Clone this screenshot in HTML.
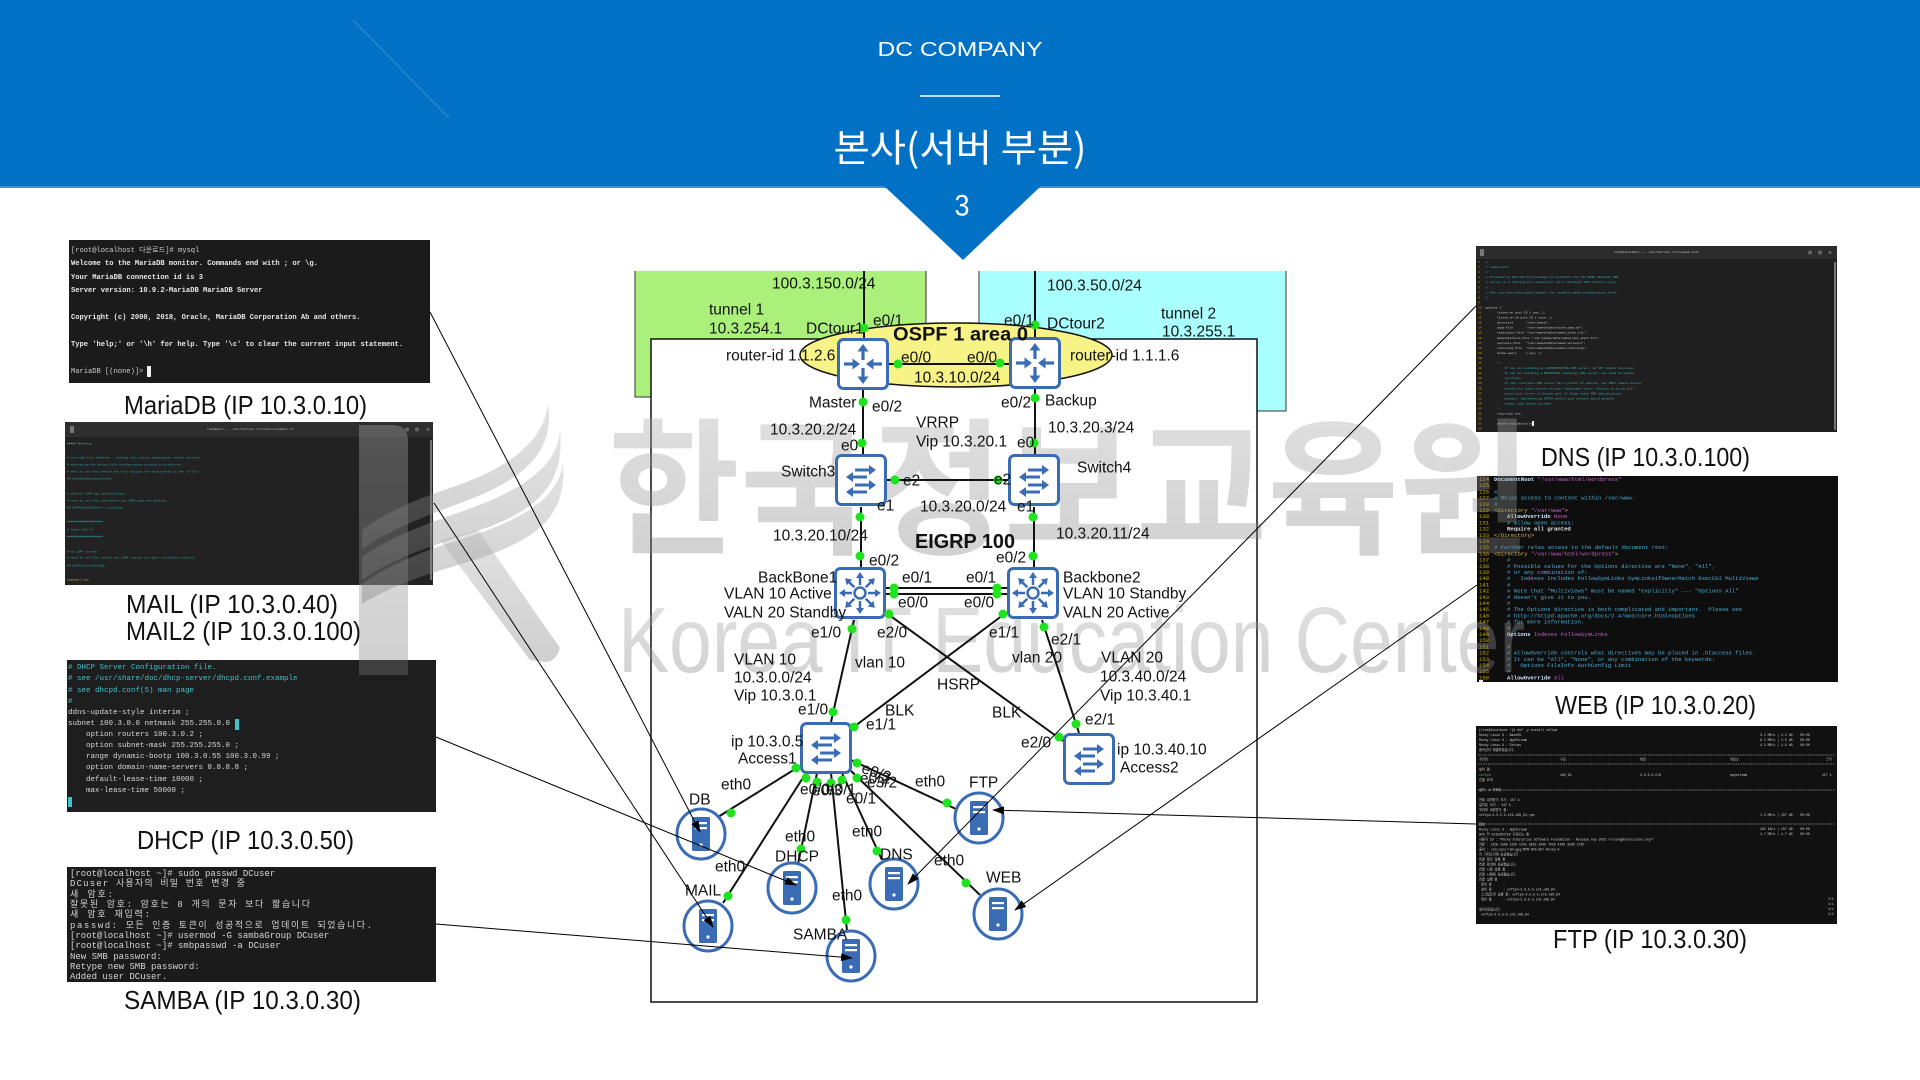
<!DOCTYPE html>
<html><head><meta charset="utf-8">
<style>
html,body{margin:0;padding:0;background:#fff;width:1920px;height:1080px;overflow:hidden;}
svg{display:block;}
text{dominant-baseline:central;}
.l{font-size:15.5px;fill:#111;}
.m{font-family:'Liberation Mono','Noto Sans CJK KR',monospace;white-space:pre;}
.cap{font-size:26px;fill:#111;}
</style></head>
<body>
<svg xmlns="http://www.w3.org/2000/svg" width="1920" height="1080" viewBox="0 0 1920 1080" font-family="'Liberation Sans','Noto Sans CJK KR',sans-serif">
<defs>
<marker id="ah" markerWidth="12" markerHeight="8" refX="11" refY="4" orient="auto" markerUnits="userSpaceOnUse"><path d="M0,0 L12,4 L0,8 Z" fill="#000"/></marker>
<linearGradient id="wm" x1="0" y1="0" x2="0" y2="1"><stop offset="0" stop-color="#b0b0b0"/><stop offset="1" stop-color="#7a7a7a"/></linearGradient>
<g id="rtr">
 <rect x="1.5" y="1.5" width="49" height="49" rx="5" fill="#fff" stroke="#3a6cb5" stroke-width="3"/>
 <g stroke="#3a6cb5" stroke-width="3.2" fill="none">
  <line x1="26" y1="22" x2="26" y2="12"/><line x1="26" y1="30" x2="26" y2="40"/>
  <line x1="7" y1="26" x2="17" y2="26"/><line x1="45" y1="26" x2="35" y2="26"/>
 </g>
 <g fill="#3a6cb5">
  <polygon points="26,6 20.5,13.5 31.5,13.5"/><polygon points="26,46 20.5,38.5 31.5,38.5"/>
  <polygon points="23,26 15.5,20.5 15.5,31.5"/><polygon points="29,26 36.5,20.5 36.5,31.5"/>
 </g>
</g>
<g id="sw">
 <rect x="1.5" y="1.5" width="49" height="49" rx="5" fill="#fff" stroke="#3a6cb5" stroke-width="3"/>
 <g stroke="#3a6cb5" stroke-width="3" fill="none">
  <line x1="20" y1="16" x2="35" y2="16"/><line x1="32" y1="23" x2="17" y2="23"/>
  <line x1="20" y1="31" x2="35" y2="31"/><line x1="32" y1="38" x2="17" y2="38"/>
 </g>
 <g fill="#3a6cb5">
  <polygon points="41,16 34,11 34,21"/><polygon points="11,23 18,18 18,28"/>
  <polygon points="41,31 34,26 34,36"/><polygon points="11,38 18,33 18,43"/>
 </g>
</g>
<g id="bb">
 <rect x="1.5" y="1.5" width="49" height="49" rx="5" fill="#fff" stroke="#3a6cb5" stroke-width="3"/>
 <circle cx="26" cy="26" r="5.5" fill="none" stroke="#3a6cb5" stroke-width="2.5"/>
 <g stroke="#3a6cb5" stroke-width="2.5">
  <line x1="34" y1="26" x2="42" y2="26"/><line x1="26" y1="34" x2="26" y2="42"/>
  <line x1="18" y1="26" x2="10" y2="26"/><line x1="26" y1="18" x2="26" y2="10"/>
  <line x1="31.7" y1="31.7" x2="37.3" y2="37.3"/><line x1="20.3" y1="31.7" x2="14.7" y2="37.3"/>
  <line x1="20.3" y1="20.3" x2="14.7" y2="14.7"/><line x1="31.7" y1="20.3" x2="37.3" y2="14.7"/>
 </g>
 <g fill="#3a6cb5">
  <polygon points="47,26 41,22 41,30"/><polygon points="26,47 22,41 30,41"/>
  <polygon points="5,26 11,22 11,30"/><polygon points="26,5 22,11 30,11"/>
  <polygon points="40.9,40.9 33.8,39.4 39.4,33.8"/><polygon points="11.1,40.9 18.2,39.4 12.6,33.8"/>
  <polygon points="11.1,11.1 12.6,18.2 18.2,12.6"/><polygon points="40.9,11.1 39.4,18.2 33.8,12.6"/>
 </g>
</g>
<g id="srv">
 <ellipse rx="24" ry="25" fill="#fff" stroke="#3a6cb5" stroke-width="3"/>
 <rect x="-9" y="-17" width="18" height="34" rx="1.5" fill="#3a6cb5"/>
 <rect x="-6" y="-12" width="12" height="2.2" fill="#fff"/>
 <rect x="-6" y="-7" width="12" height="2.2" fill="#fff"/>
 <circle cx="0" cy="11" r="1.6" fill="#fff"/>
</g>
</defs>

<!-- HEADER -->
<rect x="0" y="0" width="1920" height="187" fill="#0071c5"/>
<rect x="0" y="186" width="1920" height="2" fill="#3d8fd5"/>
<line x1="353" y1="20" x2="449" y2="118" stroke="#ffffff" stroke-opacity="0.22" stroke-width="1"/>
<text x="960" y="50" text-anchor="middle" font-size="20" fill="#fff" textLength="165" lengthAdjust="spacingAndGlyphs">DC COMPANY</text>
<line x1="920" y1="96" x2="1000" y2="96" stroke="#fff" stroke-width="1.5"/>
<text x="960" y="145" text-anchor="middle" font-size="38" fill="#fff" font-family="'Noto Sans CJK KR',sans-serif" textLength="253" lengthAdjust="spacingAndGlyphs">본사(서버 부분)</text>
<polygon points="884,186 1041,186 963,260" fill="#0071c5"/>
<text x="962" y="206" text-anchor="middle" font-size="30" fill="#fff" textLength="15" lengthAdjust="spacingAndGlyphs">3</text>

<!-- LEFT PANELS -->
<rect x="69" y="240" width="361" height="143" fill="#1b1b1b"/>
<g class="m" font-size="7.1" fill="#e9e9e9" font-weight="bold">
 <text x="71" y="251" font-weight="normal" fill="#cfcfcf">[root@localhost 다운로드]# mysql</text>
 <text x="71" y="264">Welcome to the MariaDB monitor.  Commands end with ; or \g.</text>
 <text x="71" y="278">Your MariaDB connection id is 3</text>
 <text x="71" y="291">Server version: 10.9.2-MariaDB MariaDB Server</text>
 <text x="71" y="318">Copyright (c) 2000, 2018, Oracle, MariaDB Corporation Ab and others.</text>
 <text x="71" y="345">Type 'help;' or '\h' for help. Type '\c' to clear the current input statement.</text>
 <text x="71" y="372" font-weight="normal" fill="#cfcfcf">MariaDB [(none)]&gt; </text>
</g>
<rect x="147" y="366" width="4" height="11" fill="#f0f0f0"/>

<rect x="65" y="422" width="368" height="163" fill="#222"/>
<rect x="65" y="422" width="368" height="15" fill="#2e2e2e"/>
<text x="250" y="429.5" text-anchor="middle" class="m" font-size="3" fill="#bbb">root@mail:~ — /usr/bin/vim /etc/mail/sendmail.cf</text>
<rect x="70" y="426" width="4" height="7" fill="#777"/>
<circle cx="407" cy="429.5" r="2" fill="#666"/><circle cx="417" cy="429.5" r="2" fill="#666"/><circle cx="428" cy="429.5" r="1.5" fill="#666"/>
<rect x="430" y="440" width="2" height="140" fill="#777"/>
<g class="m" font-size="3" fill="#2fa4aa">
 <text x="67" y="444" fill="#8aa">##### Berkeley</text>
 <text x="67" y="458">#  override file safeties - setting this option compromises system security,</text>
 <text x="67" y="465">#  addressing the actual file configuration problem is preferred</text>
 <text x="67" y="472">#  need to set this before any file actions are encountered in the cf file</text>
 <text x="67" y="479">#O DontBlameSendmail=safe</text>
 <text x="67" y="494">#  default LDAP map specification</text>
 <text x="67" y="501">#  need to set this now before any LDAP maps are defined</text>
 <text x="67" y="508">#O LDAPDefaultSpec=-h localhost</text>
 <text x="67" y="522">####################</text>
 <text x="67" y="530">#   Local Info   #</text>
 <text x="67" y="537">####################</text>
 <text x="67" y="552">#  my LDAP cluster</text>
 <text x="67" y="558">#  need to set this before any LDAP lookups are done (including classes)</text>
 <text x="67" y="566">#O LDAPClusterID=ldap</text>
 <text x="67" y="580" fill="#d4b04a">Cwdomail.com</text>
</g>

<rect x="67" y="660" width="369" height="152" fill="#1e1e1e"/>
<g class="m" font-size="7.5" fill="#d8d8d8">
 <text x="68" y="668" fill="#3fc3cc"># DHCP Server Configuration file.</text>
 <text x="68" y="679" fill="#3fc3cc">#   see /usr/share/doc/dhcp-server/dhcpd.conf.example</text>
 <text x="68" y="691" fill="#3fc3cc">#   see dhcpd.conf(5) man page</text>
 <text x="68" y="702" fill="#3fc3cc">#</text>
 <text x="68" y="713">ddns-update-style interim ;</text>
 <text x="68" y="724">subnet 100.3.0.0 netmask 255.255.0.0 </text>
 <text x="86" y="735">option routers 100.3.0.2 ;</text>
 <text x="86" y="746">option subnet-mask 255.255.255.0 ;</text>
 <text x="86" y="757">range dynamic-bootp 100.3.0.55 100.3.0.99 ;</text>
 <text x="86" y="768">option domain-name-servers 8.8.8.8 ;</text>
 <text x="86" y="780">default-lease-time 10000 ;</text>
 <text x="86" y="791">max-lease-time 50000 ;</text>
</g>
<rect x="235" y="719" width="4" height="11" fill="#3fc3cc"/>
<rect x="68" y="797" width="4" height="10" fill="#3fc3cc"/>

<rect x="67" y="867" width="369" height="115" fill="#1b1b1b"/>
<g class="m" font-size="9" fill="#d4d4d4">
 <text x="70" y="874">[root@localhost ~]# sudo passwd DCuser</text>
 <text x="70" y="884" textLength="175" lengthAdjust="spacing">DCuser 사용자의 비밀 번호 변경 중</text>
 <text x="70" y="895" textLength="43" lengthAdjust="spacing">새 암호:</text>
 <text x="70" y="905" textLength="240" lengthAdjust="spacing">잘못된 암호: 암호는 8 개의 문자 보다 짧습니다</text>
 <text x="70" y="915" textLength="80" lengthAdjust="spacing">새 암호 재입력:</text>
 <text x="70" y="926" textLength="302" lengthAdjust="spacing">passwd: 모든 인증 토큰이 성공적으로 업데이트 되었습니다.</text>
 <text x="70" y="936">[root@localhost ~]# usermod -G sambaGroup DCuser</text>
 <text x="70" y="946">[root@localhost ~]# smbpasswd -a DCuser</text>
 <text x="70" y="957">New SMB password:</text>
 <text x="70" y="967">Retype new SMB password:</text>
 <text x="70" y="977">Added user DCuser.</text>
</g>

<!-- RIGHT PANELS -->
<rect x="1476" y="246" width="361" height="186" fill="#1f1f1f"/>
<rect x="1476" y="246" width="361" height="13" fill="#2c2c2c"/>
<text x="1656" y="252.5" text-anchor="middle" class="m" font-size="3" fill="#ccc">root@localhost:~ — /usr/bin/vim /etc/named.conf</text>
<rect x="1480" y="249" width="4" height="7" fill="#777"/>
<circle cx="1810" cy="252.5" r="2" fill="#666"/><circle cx="1820" cy="252.5" r="2" fill="#666"/><circle cx="1830" cy="252.5" r="1.5" fill="#666"/>
<rect x="1834" y="262" width="2" height="168" fill="#777"/>
<text class="m" font-size="3" fill="#c9b200"><tspan x="1478" y="262">1</tspan><tspan x="1478" dy="5.05">2</tspan><tspan x="1478" dy="5.05">3</tspan><tspan x="1478" dy="5.05">4</tspan><tspan x="1478" dy="5.05">5</tspan><tspan x="1478" dy="5.05">6</tspan><tspan x="1478" dy="5.05">7</tspan><tspan x="1478" dy="5.05">8</tspan><tspan x="1478" dy="5.05">9</tspan><tspan x="1478" dy="5.05">10</tspan><tspan x="1478" dy="5.05">11</tspan><tspan x="1478" dy="5.05">12</tspan><tspan x="1478" dy="5.05">13</tspan><tspan x="1478" dy="5.05">14</tspan><tspan x="1478" dy="5.05">15</tspan><tspan x="1478" dy="5.05">16</tspan><tspan x="1478" dy="5.05">17</tspan><tspan x="1478" dy="5.05">18</tspan><tspan x="1478" dy="5.05">19</tspan><tspan x="1478" dy="5.05">20</tspan><tspan x="1478" dy="5.05">21</tspan><tspan x="1478" dy="5.05">22</tspan><tspan x="1478" dy="5.05">23</tspan><tspan x="1478" dy="5.05">24</tspan><tspan x="1478" dy="5.05">25</tspan><tspan x="1478" dy="5.05">26</tspan><tspan x="1478" dy="5.05">27</tspan><tspan x="1478" dy="5.05">28</tspan><tspan x="1478" dy="5.05">29</tspan><tspan x="1478" dy="5.05">30</tspan><tspan x="1478" dy="5.05">31</tspan><tspan x="1478" dy="5.05">32</tspan><tspan x="1478" dy="5.05">33</tspan><tspan x="1478" dy="5.05">34</tspan></text>
<text class="m" font-size="3" fill="#3fb0b8"><tspan x="1485" y="262">//</tspan><tspan x="1485" dy="5.05">// named.conf</tspan><tspan x="1485" dy="5.05">//</tspan><tspan x="1485" dy="5.05">// Provided by Red Hat bind package to configure the ISC BIND named(8) DNS</tspan><tspan x="1485" dy="5.05">// server as a caching only nameserver (as a localhost DNS resolver only).</tspan><tspan x="1485" dy="5.05">//</tspan><tspan x="1485" dy="5.05">// See /usr/share/doc/bind*/sample/ for example named configuration files.</tspan><tspan x="1485" dy="5.05">//</tspan><tspan x="1485" dy="5.05">&#160;</tspan><tspan x="1485" dy="5.05" fill="#d0d0d0">options {</tspan><tspan x="1497" dy="5.05" fill="#d0d0d0">listen-on port 53 { any; };</tspan><tspan x="1497" dy="5.05" fill="#d0d0d0">listen-on-v6 port 53 { none; };</tspan><tspan x="1497" dy="5.05" fill="#d0d0d0">directory       "/var/named";</tspan><tspan x="1497" dy="5.05" fill="#d0d0d0">dump-file       "/var/named/data/cache_dump.db";</tspan><tspan x="1497" dy="5.05" fill="#d0d0d0">statistics-file "/var/named/data/named_stats.txt";</tspan><tspan x="1497" dy="5.05" fill="#d0d0d0">memstatistics-file "/var/named/data/named_mem_stats.txt";</tspan><tspan x="1497" dy="5.05" fill="#d0d0d0">secroots-file   "/var/named/data/named.secroots";</tspan><tspan x="1497" dy="5.05" fill="#d0d0d0">recursing-file  "/var/named/data/named.recursing";</tspan><tspan x="1497" dy="5.05" fill="#d0d0d0">allow-query     { any; };</tspan><tspan x="1497" dy="5.05">&#160;</tspan><tspan x="1497" dy="5.05">/*</tspan><tspan x="1499" dy="5.05"> - If you are building an AUTHORITATIVE DNS server, do NOT enable recursion.</tspan><tspan x="1499" dy="5.05"> - If you are building a RECURSIVE (caching) DNS server, you need to enable</tspan><tspan x="1499" dy="5.05">   recursion.</tspan><tspan x="1499" dy="5.05"> - If your recursive DNS server has a public IP address, you MUST enable access</tspan><tspan x="1499" dy="5.05">   control to limit queries to your legitimate users. Failing to do so will</tspan><tspan x="1499" dy="5.05">   cause your server to become part of large scale DNS amplification</tspan><tspan x="1499" dy="5.05">   attacks. Implementing BCP38 within your network would greatly</tspan><tspan x="1499" dy="5.05">   reduce such attack surface</tspan><tspan x="1497" dy="5.05">*/</tspan><tspan x="1497" dy="5.05" fill="#d0d0d0">recursion yes;</tspan><tspan x="1497" dy="5.05">&#160;</tspan><tspan x="1497" dy="5.05" fill="#d0d0d0">dnssec-validation no;</tspan><tspan x="1485" dy="5.05">&#160;</tspan></text>
<rect x="1532" y="421" width="2" height="5" fill="#eee"/>

<rect x="1477" y="476" width="361" height="206" fill="#0e0e0e"/>
<text class="m" font-size="5.6" fill="#c8a800"><tspan x="1479" y="479">124</tspan><tspan x="1479" dy="6.2">125</tspan><tspan x="1479" dy="6.2">126</tspan><tspan x="1479" dy="6.2">127</tspan><tspan x="1479" dy="6.2">128</tspan><tspan x="1479" dy="6.2">129</tspan><tspan x="1479" dy="6.2">130</tspan><tspan x="1479" dy="6.2">131</tspan><tspan x="1479" dy="6.2">132</tspan><tspan x="1479" dy="6.2">133</tspan><tspan x="1479" dy="6.2">134</tspan><tspan x="1479" dy="6.2">135</tspan><tspan x="1479" dy="6.2">136</tspan><tspan x="1479" dy="6.2">137</tspan><tspan x="1479" dy="6.2">138</tspan><tspan x="1479" dy="6.2">139</tspan><tspan x="1479" dy="6.2">140</tspan><tspan x="1479" dy="6.2">141</tspan><tspan x="1479" dy="6.2">142</tspan><tspan x="1479" dy="6.2">143</tspan><tspan x="1479" dy="6.2">144</tspan><tspan x="1479" dy="6.2">145</tspan><tspan x="1479" dy="6.2">146</tspan><tspan x="1479" dy="6.2">147</tspan><tspan x="1479" dy="6.2">148</tspan><tspan x="1479" dy="6.2">149</tspan><tspan x="1479" dy="6.2">150</tspan><tspan x="1479" dy="6.2">151</tspan><tspan x="1479" dy="6.2">152</tspan><tspan x="1479" dy="6.2">153</tspan><tspan x="1479" dy="6.2">154</tspan><tspan x="1479" dy="6.2">155</tspan><tspan x="1479" dy="6.2">156</tspan></text>
<text class="m" font-size="5.6" fill="#4ab0d8"><tspan x="1494" y="479" fill="#d0e8ff" font-weight="bold">DocumentRoot <tspan fill="#c060c0" font-weight="normal">"/var/www/html/wordpress"</tspan></tspan><tspan x="1494" dy="6.2">&#160;</tspan><tspan x="1494" dy="6.2">#</tspan><tspan x="1494" dy="6.2"># Relax access to content within /var/www.</tspan><tspan x="1494" dy="6.2">#</tspan><tspan x="1494" dy="6.2" fill="#d8b84a">&lt;Directory <tspan fill="#c060c0">"/var/www"</tspan>&gt;</tspan><tspan x="1507" dy="6.2" fill="#d0e8ff" font-weight="bold">AllowOverride <tspan fill="#c060c0" font-weight="normal">None</tspan></tspan><tspan x="1507" dy="6.2"># Allow open access:</tspan><tspan x="1507" dy="6.2" fill="#e8e8e8" font-weight="bold">Require all granted</tspan><tspan x="1494" dy="6.2" fill="#d8b84a">&lt;/Directory&gt;</tspan><tspan x="1494" dy="6.2">&#160;</tspan><tspan x="1494" dy="6.2"># Further relax access to the default document root:</tspan><tspan x="1494" dy="6.2" fill="#d8b84a">&lt;Directory <tspan fill="#c060c0">"/var/www/html/wordpress"</tspan>&gt;</tspan><tspan x="1507" dy="6.2">#</tspan><tspan x="1507" dy="6.2"># Possible values for the Options directive are "None", "All",</tspan><tspan x="1507" dy="6.2"># or any combination of:</tspan><tspan x="1507" dy="6.2">#   Indexes Includes FollowSymLinks SymLinksifOwnerMatch ExecCGI MultiViews</tspan><tspan x="1507" dy="6.2">#</tspan><tspan x="1507" dy="6.2"># Note that "MultiViews" must be named *explicitly* --- "Options All"</tspan><tspan x="1507" dy="6.2"># doesn't give it to you.</tspan><tspan x="1507" dy="6.2">#</tspan><tspan x="1507" dy="6.2"># The Options directive is both complicated and important.  Please see</tspan><tspan x="1507" dy="6.2"># http://httpd.apache.org/docs/2.4/mod/core.html#options</tspan><tspan x="1507" dy="6.2"># for more information.</tspan><tspan x="1507" dy="6.2">#</tspan><tspan x="1507" dy="6.2" fill="#d0e8ff" font-weight="bold">Options <tspan fill="#c060c0" font-weight="normal">Indexes FollowSymLinks</tspan></tspan><tspan x="1507" dy="6.2">&#160;</tspan><tspan x="1507" dy="6.2">#</tspan><tspan x="1507" dy="6.2"># AllowOverride controls what directives may be placed in .htaccess files.</tspan><tspan x="1507" dy="6.2"># It can be "All", "None", or any combination of the keywords:</tspan><tspan x="1507" dy="6.2">#   Options FileInfo AuthConfig Limit</tspan><tspan x="1507" dy="6.2">#</tspan><tspan x="1507" dy="6.2" fill="#d0e8ff" font-weight="bold">AllowOverride <tspan fill="#c060c0" font-weight="normal">All</tspan></tspan></text>
<rect x="1479" y="680" width="4" height="2" fill="#eee"/>

<rect x="1476" y="726" width="361" height="198" fill="#111"/>
<g stroke="#9a9a9a" stroke-width="0.8" stroke-dasharray="1.5,1">
 <line x1="1478" y1="755" x2="1835" y2="755"/><line x1="1478" y1="764" x2="1835" y2="764"/>
 <line x1="1478" y1="790" x2="1835" y2="790"/><line x1="1478" y1="824" x2="1835" y2="824"/>
</g>
<text class="m" font-size="3.2" fill="#d0d0d0"><tspan x="1479" y="730">[root@localhost ~]# dnf -y install vsftpd</tspan><tspan x="1479" dy="5">Rocky Linux 9 - BaseOS</tspan><tspan x="1479" dy="5">Rocky Linux 9 - AppStream</tspan><tspan x="1479" dy="5">Rocky Linux 9 - Extras</tspan><tspan x="1479" dy="5">종속성이 해결되었습니다.</tspan><tspan x="1479" dy="9.5">꾸러미</tspan><tspan x="1479" dy="10">설치 중:</tspan><tspan x="1479" dy="5.5" fill="#3ccc3c">vsftpd</tspan><tspan x="1479" dy="5">연결 요약</tspan><tspan x="1479" dy="10">설치  1 꾸러미</tspan><tspan x="1479" dy="10">전체 내려받기 크기: 157 k</tspan><tspan x="1479" dy="5">설치된 크기 : 347 k</tspan><tspan x="1479" dy="5">꾸러미 내려받기 중:</tspan><tspan x="1479" dy="5">vsftpd-3.0.5-5.el9.x86_64.rpm</tspan><tspan x="1479" dy="9.5">합계</tspan><tspan x="1479" dy="5">Rocky Linux 9 - AppStream</tspan><tspan x="1479" dy="5">GPG 키 0x350D275D 가져오는 중:</tspan><tspan x="1479" dy="5">사용자 ID : "Rocky Enterprise Software Foundation - Release key 2022 &lt;releng@rockylinux.org&gt;"</tspan><tspan x="1479" dy="5">지문 : 21CB 256A E16F C54C 6E65 2949 702D 426D 350D 275D</tspan><tspan x="1479" dy="5">출처 : /etc/pki/rpm-gpg/RPM-GPG-KEY-Rocky-9</tspan><tspan x="1479" dy="5">키 가져오기에 성공했습니다</tspan><tspan x="1479" dy="5">연결 확인 실행 중</tspan><tspan x="1479" dy="5">연결 확인에 성공했습니다.</tspan><tspan x="1479" dy="5">연결 시험 실행 중</tspan><tspan x="1479" dy="5">연결 시험에 성공했습니다.</tspan><tspan x="1479" dy="5">연결 실행 중</tspan><tspan x="1481" dy="5">준비 중      :</tspan><tspan x="1481" dy="5">설치 중      : vsftpd-3.0.5-5.el9.x86_64</tspan><tspan x="1481" dy="5">스크립트릿 실행 중: vsftpd-3.0.5-5.el9.x86_64</tspan><tspan x="1481" dy="5">확인 중      : vsftpd-3.0.5-5.el9.x86_64</tspan><tspan x="1479" dy="10">설치되었습니다:</tspan><tspan x="1481" dy="5">vsftpd-3.0.5-5.el9.x86_64</tspan></text>
<text class="m" font-size="3.2" fill="#d0d0d0"><tspan x="1760" y="735">3.1 MB/s | 4.2 kB    00:00</tspan><tspan x="1760" dy="5">6.1 MB/s | 1.5 kB    00:00</tspan><tspan x="1760" dy="5">4.2 MB/s | 1.6 kB    00:00</tspan></text>
<text class="m" font-size="3.2" fill="#d0d0d0"><tspan x="1560" y="759.5">구조</tspan><tspan x="1640" y="759.5">버전</tspan><tspan x="1730" y="759.5">저장소</tspan><tspan x="1826" y="759.5">크기</tspan><tspan x="1560" y="775">x86_64</tspan><tspan x="1640" y="775">3.0.5-5.el9</tspan><tspan x="1730" y="775">appstream</tspan><tspan x="1822" y="775">157 k</tspan><tspan x="1760" y="815">1.3 MB/s | 157 kB    00:00</tspan><tspan x="1760" y="829">265 kB/s | 157 kB    00:00</tspan><tspan x="1760" y="834">1.7 MB/s | 1.7 kB    00:00</tspan><tspan x="1828" y="899">1/1</tspan><tspan x="1828" y="904">1/1</tspan><tspan x="1828" y="909">1/1</tspan><tspan x="1828" y="914">1/1</tspan></text>

<!-- CAPTIONS -->
<text class="cap" x="124" y="405" textLength="243" lengthAdjust="spacingAndGlyphs">MariaDB (IP 10.3.0.10)</text>
<text class="cap" x="126" y="604" textLength="212" lengthAdjust="spacingAndGlyphs">MAIL (IP 10.3.0.40)</text>
<text class="cap" x="126" y="631" textLength="235" lengthAdjust="spacingAndGlyphs">MAIL2 (IP 10.3.0.100)</text>
<text class="cap" x="137" y="840" textLength="217" lengthAdjust="spacingAndGlyphs">DHCP (IP 10.3.0.50)</text>
<text class="cap" x="124" y="1000" textLength="237" lengthAdjust="spacingAndGlyphs">SAMBA (IP 10.3.0.30)</text>
<text class="cap" x="1541" y="457" textLength="209" lengthAdjust="spacingAndGlyphs">DNS (IP 10.3.0.100)</text>
<text class="cap" x="1555" y="705" textLength="201" lengthAdjust="spacingAndGlyphs">WEB (IP 10.3.0.20)</text>
<text class="cap" x="1553" y="939" textLength="194" lengthAdjust="spacingAndGlyphs">FTP (IP 10.3.0.30)</text>

<!-- DIAGRAM BACKGROUNDS -->
<rect x="635" y="271" width="291" height="126" fill="#aaf07a"/>
<rect x="979" y="271" width="307" height="140" fill="#aaffff"/>
<g stroke="#333" stroke-width="1" fill="none">
 <polyline points="635,271 635,397 926,397 926,271"/>
 <polyline points="979,271 979,411 1286,411 1286,271"/>
</g>
<rect x="651" y="339" width="606" height="663" fill="#fff" stroke="#111" stroke-width="1.5"/>
<ellipse cx="956" cy="355" rx="156" ry="32" fill="#f8f386" stroke="#111" stroke-width="1.5"/>

<!-- WATERMARK -->
<g fill="url(#wm)" fill-opacity="0.36">
 <text x="608" y="478" font-size="148" font-weight="bold" font-family="'Noto Sans CJK KR',sans-serif" textLength="923" lengthAdjust="spacingAndGlyphs">한국정보교육원</text>
 <text x="618" y="640" font-size="93" textLength="907" lengthAdjust="spacingAndGlyphs">Korea IT Education Center</text>
 <path d="M359,425 H392 Q408,425 408,441 V675 H359 Z"/>
 <path d="M548,403 C545,440 510,468 450,488 C420,498 385,512 362,530 L362,549 C390,530 420,518 455,505 C520,482 556,455 548,403 Z"/>
 <path d="M560,430 C558,465 525,490 460,512 C420,526 385,540 362,557 L362,580 C390,560 425,548 465,535 C530,515 566,490 560,430 Z"/>
 <path d="M563,462 C560,495 528,518 465,538 C425,550 388,565 362,584 L362,604 C392,585 428,574 468,562 C532,542 568,520 563,462 Z"/>
 <path d="M440,540 L478,530 L560,648 Q556,662 545,662 L530,660 Z"/>
</g>

<!-- LINKS -->
<g stroke="#111" stroke-width="2" fill="none">
 <line x1="864" y1="271" x2="864" y2="339"/>
 <line x1="863" y1="390" x2="863" y2="454"/>
 <line x1="861" y1="507" x2="861" y2="567"/>
 <line x1="1035" y1="271" x2="1035" y2="337"/>
 <line x1="1035" y1="388" x2="1035" y2="454"/>
 <line x1="1034" y1="507" x2="1034" y2="567"/>
 <line x1="889" y1="364" x2="1009" y2="364"/>
 <line x1="887" y1="480" x2="1008" y2="480"/>
 <line x1="885" y1="588" x2="1007" y2="588"/>
 <line x1="885" y1="594" x2="1007" y2="594"/>
 <line x1="854" y1="620" x2="831" y2="722"/>
 <line x1="885" y1="612" x2="1063" y2="741"/>
 <line x1="1007" y1="612" x2="851" y2="729"/>
 <line x1="1042" y1="620" x2="1079" y2="733"/>
 <line x1="800" y1="766" x2="718" y2="817"/>
 <line x1="806" y1="773" x2="723" y2="903"/>
 <line x1="817" y1="773" x2="798" y2="864"/>
 <line x1="831" y1="773" x2="847" y2="931"/>
 <line x1="842" y1="773" x2="882" y2="860"/>
 <line x1="851" y1="771" x2="980" y2="895"/>
 <line x1="851" y1="760" x2="956" y2="809"/>
</g>

<!-- NODES -->
<use href="#rtr" x="837" y="338"/>
<use href="#rtr" x="1009" y="337"/>
<use href="#sw" x="835" y="454"/>
<use href="#sw" x="1008" y="454"/>
<use href="#bb" x="834" y="567"/>
<use href="#bb" x="1007" y="567"/>
<use href="#sw" x="800" y="722"/>
<use href="#sw" x="1063" y="733"/>
<use href="#srv" x="701" y="834"/>
<use href="#srv" x="792" y="888"/>
<use href="#srv" x="708" y="926"/>
<use href="#srv" x="894" y="884"/>
<use href="#srv" x="851" y="956"/>
<use href="#srv" x="979" y="818"/>
<use href="#srv" x="998" y="914"/>

<!-- GREEN DOTS -->
<g fill="#1fe31f">
 <circle cx="864" cy="328" r="4.5"/><circle cx="898" cy="364" r="4.5"/><circle cx="1000" cy="363" r="4.5"/><circle cx="1035" cy="325" r="4.5"/>
 <circle cx="863" cy="402" r="4.5"/><circle cx="1035" cy="398" r="4.5"/><circle cx="862" cy="443" r="4.5"/><circle cx="1034" cy="443" r="4.5"/>
 <circle cx="895" cy="480" r="4.5"/><circle cx="998" cy="480" r="4.5"/><circle cx="860" cy="517" r="4.5"/><circle cx="1033" cy="517" r="4.5"/>
 <circle cx="860" cy="556" r="4.5"/><circle cx="1033" cy="556" r="4.5"/>
 <circle cx="894" cy="588" r="4.5"/><circle cx="894" cy="594" r="4.5"/><circle cx="997" cy="588" r="4.5"/><circle cx="997" cy="594" r="4.5"/>
 <circle cx="889" cy="614" r="4.5"/><circle cx="852" cy="629" r="4.5"/><circle cx="1003" cy="614" r="4.5"/><circle cx="1044" cy="627" r="4.5"/>
 <circle cx="833" cy="712" r="4.5"/><circle cx="854" cy="727" r="4.5"/><circle cx="1076" cy="724" r="4.5"/><circle cx="1059" cy="737" r="4.5"/>
 <circle cx="796" cy="768" r="4.5"/><circle cx="806" cy="778" r="4.5"/><circle cx="817" cy="782" r="4.5"/><circle cx="831" cy="783" r="4.5"/>
 <circle cx="842" cy="780" r="4.5"/><circle cx="857" cy="763" r="4.5"/><circle cx="857" cy="778" r="4.5"/>
 <circle cx="731" cy="813" r="4.5"/><circle cx="728" cy="896" r="4.5"/><circle cx="801" cy="849" r="4.5"/><circle cx="846" cy="920" r="4.5"/>
 <circle cx="877" cy="851" r="4.5"/><circle cx="947" cy="803" r="4.5"/><circle cx="966" cy="883" r="4.5"/>
</g>

<!-- LABELS -->
<g class="l">
 <text x="772" y="284">100.3.150.0/24</text>
 <text x="709" y="310">tunnel 1</text>
 <text x="709" y="329">10.3.254.1</text>
 <text x="806" y="329">DCtour1</text>
 <text x="873" y="321">e0/1</text>
 <text x="726" y="356">router-id 1.1.2.6</text>
 <text x="901" y="358">e0/0</text>
 <text x="967" y="358">e0/0</text>
 <text x="914" y="378">10.3.10.0/24</text>
 <text x="1004" y="321">e0/1</text>
 <text x="1047" y="324">DCtour2</text>
 <text x="1047" y="286">100.3.50.0/24</text>
 <text x="1161" y="314">tunnel 2</text>
 <text x="1162" y="332">10.3.255.1</text>
 <text x="1070" y="356">router-id 1.1.1.6</text>
 <text x="809" y="403">Master</text>
 <text x="872" y="407">e0/2</text>
 <text x="1001" y="403">e0/2</text>
 <text x="1045" y="401">Backup</text>
 <text x="916" y="423">VRRP</text>
 <text x="916" y="442">Vip 10.3.20.1</text>
 <text x="770" y="430">10.3.20.2/24</text>
 <text x="1048" y="428">10.3.20.3/24</text>
 <text x="841" y="446">e0</text>
 <text x="1017" y="443">e0</text>
 <text x="781" y="472">Switch3</text>
 <text x="1077" y="468">Switch4</text>
 <text x="903" y="481">e2</text>
 <text x="994" y="480">e2</text>
 <text x="877" y="506">e1</text>
 <text x="1017" y="507">e1</text>
 <text x="920" y="507">10.3.20.0/24</text>
 <text x="773" y="536">10.3.20.10/24</text>
 <text x="1056" y="534">10.3.20.11/24</text>
 <text x="869" y="561">e0/2</text>
 <text x="996" y="558">e0/2</text>
 <text x="758" y="578">BackBone1</text>
 <text x="724" y="594">VLAN 10 Active</text>
 <text x="724" y="613">VALN 20 Standby</text>
 <text x="1063" y="578">Backbone2</text>
 <text x="1063" y="594">VLAN 10 Standby</text>
 <text x="1063" y="613">VALN 20 Active</text>
 <text x="902" y="578">e0/1</text>
 <text x="966" y="578">e0/1</text>
 <text x="898" y="603">e0/0</text>
 <text x="964" y="603">e0/0</text>
 <text x="811" y="633">e1/0</text>
 <text x="877" y="633">e2/0</text>
 <text x="989" y="633">e1/1</text>
 <text x="1051" y="640">e2/1</text>
 <text x="734" y="660">VLAN 10</text>
 <text x="734" y="678">10.3.0.0/24</text>
 <text x="734" y="696">Vip 10.3.0.1</text>
 <text x="855" y="663">vlan 10</text>
 <text x="1012" y="658">vlan 20</text>
 <text x="1101" y="658">VLAN 20</text>
 <text x="1100" y="677">10.3.40.0/24</text>
 <text x="1100" y="696">Vip 10.3.40.1</text>
 <text x="937" y="685">HSRP</text>
 <text x="885" y="711">BLK</text>
 <text x="992" y="713">BLK</text>
 <text x="798" y="710">e1/0</text>
 <text x="866" y="725">e1/1</text>
 <text x="731" y="742">ip 10.3.0.5</text>
 <text x="738" y="759">Access1</text>
 <text x="1117" y="750">ip 10.3.40.10</text>
 <text x="1120" y="768">Access2</text>
 <text x="1085" y="720">e2/1</text>
 <text x="1021" y="743">e2/0</text>
 <text x="800" y="790">e0/0</text>
 <text x="812" y="791">e0/3</text>
 <text x="826" y="790">e0/1</text>
 <text x="846" y="799">e0/1</text>
 <text x="860" y="779">e0/2</text>
 <text x="867" y="783">e3/2</text>
 <text x="862" y="768" transform="rotate(20 862 768)">e0/3</text>
 <text x="721" y="785">eth0</text>
 <text x="689" y="800">DB</text>
 <text x="785" y="837">eth0</text>
 <text x="775" y="857">DHCP</text>
 <text x="715" y="867">eth0</text>
 <text x="685" y="891">MAIL</text>
 <text x="852" y="832">eth0</text>
 <text x="880" y="855">DNS</text>
 <text x="832" y="896">eth0</text>
 <text x="793" y="935">SAMBA</text>
 <text x="915" y="782">eth0</text>
 <text x="969" y="783">FTP</text>
 <text x="934" y="861">eth0</text>
 <text x="986" y="878">WEB</text>
</g>
<text x="893" y="335" font-size="19" font-weight="bold" fill="#111" textLength="135" lengthAdjust="spacingAndGlyphs">OSPF 1 area 0</text>
<text x="915" y="542" font-size="20" font-weight="bold" fill="#111" textLength="100" lengthAdjust="spacingAndGlyphs">EIGRP 100</text>

<!-- CONNECTORS -->
<g stroke="#000" stroke-width="1" fill="none" marker-end="url(#ah)">
 <line x1="430" y1="312" x2="700" y2="832"/>
 <line x1="434" y1="503" x2="713" y2="927"/>
 <line x1="436" y1="737" x2="796" y2="885"/>
 <line x1="436" y1="924" x2="852" y2="958"/>
 <line x1="1476" y1="306" x2="908" y2="884"/>
 <line x1="1477" y1="585" x2="1015" y2="910"/>
 <line x1="1476" y1="824" x2="993" y2="810"/>
</g>
</svg>
</body></html>
